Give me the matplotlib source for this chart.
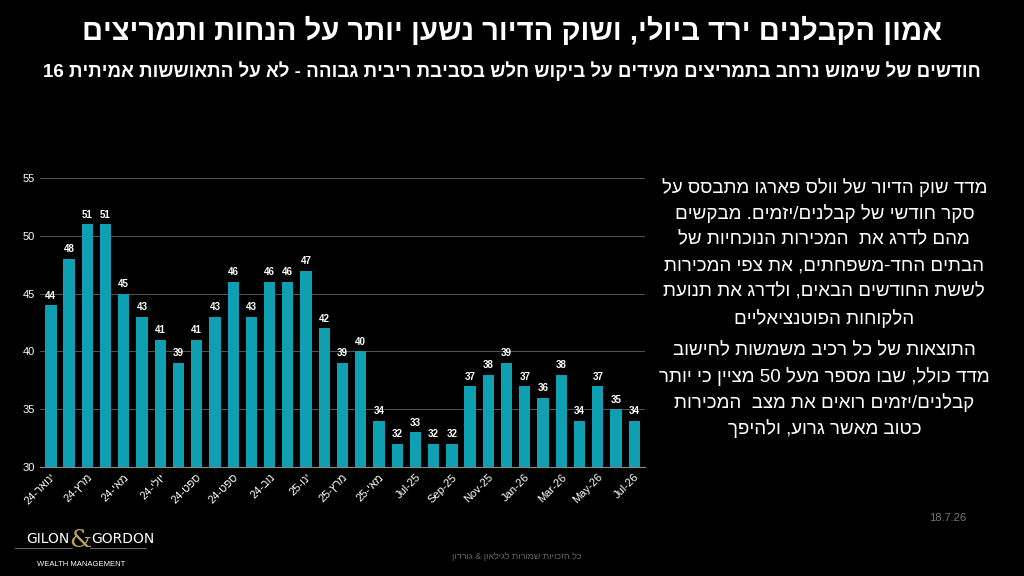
import re
import matplotlib
matplotlib.use("Agg")
import matplotlib.pyplot as plt
import numpy as np

plt.rcParams['font.family'] = ['Liberation Sans', 'DejaVu Sans']


def heb(s):
    # matplotlib has no bidi support: flip to visual order, keep digit runs LTR
    r = s[::-1]
    return re.sub(r'[0-9]+', lambda m: m.group(0)[::-1], r)


def hmonth(name, yr):
    return yr + '-' + name[::-1]


values = [44, 48, 51, 51, 45, 43, 41, 39, 41, 43, 46, 43, 46, 46, 47, 42, 39,
          40, 34, 32, 33, 32, 32, 37, 38, 39, 37, 36, 38, 34, 37, 35, 34]
tick_labels = [hmonth('ינואר', '24'), hmonth('מרץ', '24'), hmonth('מאי', '24'),
               hmonth('יולי', '24'), hmonth('ספט', '24'), hmonth('ספט', '24'),
               hmonth('נוב', '24'), hmonth('ינו', '25'), hmonth('מרץ', '25'),
               hmonth('מאי', '25'), 'Jul-25', 'Sep-25', 'Nov-25', 'Jan-26',
               'Mar-26', 'May-26', 'Jul-26']

title = 'אמון הקבלנים ירד ביולי, ושוק הדיור נשען יותר על הנחות ותמריצים'
subtitle = 'חודשים של שימוש נרחב בתמריצים מעידים על ביקוש חלש בסביבת ריבית גבוהה - לא על התאוששות אמיתית 16'
para1 = ['מדד שוק הדיור של וולס פארגו מתבסס על',
         'סקר חודשי של קבלנים/יזמים. מבקשים',
         'מהם לדרג את  המכירות הנוכחיות של',
         'הבתים החד-משפחתים, את צפי המכירות',
         'לששת החודשים הבאים, ולדרג את תנועת',
         'הלקוחות הפוטנציאליים']
para2 = ['התוצאות של כל רכיב משמשות לחישוב',
         'מדד כולל, שבו מספר מעל 50 מציין כי יותר',
         'קבלנים/יזמים רואים את מצב  המכירות',
         'כטוב מאשר גרוע, ולהיפך']

fig = plt.figure(figsize=(10.24, 5.76), dpi=100, facecolor='black')
fig.text(0.5, 0.945, heb(title), color='white', fontsize=21, fontweight='bold',
         ha='center', va='center')
fig.text(0.5, 0.877, heb(subtitle), color='white', fontsize=13.5, fontweight='bold',
         ha='center', va='center')

ax = fig.add_axes([0.039, 0.189, 0.591, 0.502], facecolor='black')
x = np.arange(len(values))
bars = ax.bar(x, values, width=0.62, color='#0e9fb2')
for xi, v in zip(x, values):
    ax.text(xi, v + 0.4, str(v), color='white', fontsize=7, fontweight='bold',
            ha='center', va='bottom')
ax.set_ylim(30, 55)
ax.set_xlim(-0.6, len(values) - 0.4)
ax.set_yticks(range(30, 56, 5))
ax.yaxis.grid(True, color='#555555', linewidth=0.7)
ax.set_axisbelow(True)
ax.set_xticks(x[::2])
ax.set_xticklabels(tick_labels, rotation=45, ha='right', rotation_mode='anchor')
ax.tick_params(colors='white', labelsize=8, length=0)
for s in ['top', 'right', 'left']:
    ax.spines[s].set_visible(False)
ax.spines['bottom'].set_color('#888888')

y = 0.675
for line in para1:
    fig.text(0.805, y, heb(line), color='white', fontsize=13.5, ha='center', va='center')
    y -= 0.0455
y -= 0.01
for line in para2:
    fig.text(0.805, y, heb(line), color='white', fontsize=13.5, ha='center', va='center')
    y -= 0.0455

fig.text(0.925, 0.095, '18.7.26', color='#777777', fontsize=8, ha='center')
fig.text(0.068, 0.058, 'GILON', color='white', fontsize=10, ha='right', family='DejaVu Sans Condensed')
fig.text(0.0785, 0.05, '&', color='#b8a060', fontsize=18, ha='center', family='DejaVu Serif')
fig.text(0.089, 0.058, 'GORDON', color='white', fontsize=10, ha='left', family='DejaVu Sans Condensed')
fig.plot = None
fig.add_artist(plt.Line2D([0.015, 0.07], [0.048, 0.048], color='#777777', lw=0.6))
fig.add_artist(plt.Line2D([0.088, 0.143], [0.048, 0.048], color='#777777', lw=0.6))
fig.text(0.079, 0.018, 'WEALTH MANAGEMENT', color='white', fontsize=5.5, ha='center')
fig.text(0.505, 0.03, heb('כל הזכויות שמורות לגילאון & גורדון'), color='#666666',
         fontsize=6.5, ha='center')

fig.savefig('out.png', dpi=100, facecolor='black')
